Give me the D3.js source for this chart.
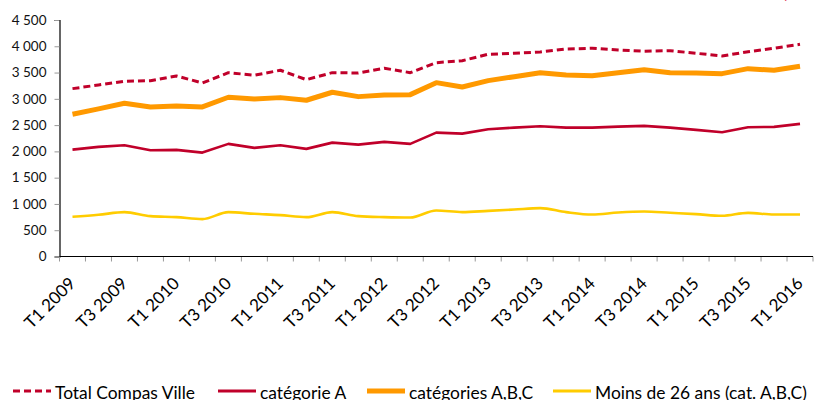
<!DOCTYPE html>
<html>
<head>
<meta charset="utf-8">
<script src="https://cdn.jsdelivr.net/npm/d3@7"></script>
<style>
  body { margin: 0; background: #fff; }
  svg { display: block; font-family: Lato, "Open Sans", sans-serif; }
</style>
</head>
<body>
<svg width="814" height="400"></svg>
<script>
var quarters = ['T1 2009','T2 2009','T3 2009','T4 2009','T1 2010','T2 2010','T3 2010','T4 2010',
                'T1 2011','T2 2011','T3 2011','T4 2011','T1 2012','T2 2012','T3 2012','T4 2012',
                'T1 2013','T2 2013','T3 2013','T4 2013','T1 2014','T2 2014','T3 2014','T4 2014',
                'T1 2015','T2 2015','T3 2015','T4 2015','T1 2016'];

var totalCompas = [3194,3264,3335,3346,3435,3302,3498,3449,3544,3365,3498,3492,3582,3498,3688,
                   3726,3848,3867,3892,3949,3962,3930,3905,3916,3867,3816,3897,3962,4038];
var catA = [2034,2086,2118,2023,2028,1977,2143,2067,2118,2048,2167,2129,2181,2143,2357,
            2338,2422,2452,2479,2452,2452,2471,2485,2452,2409,2365,2460,2466,2523];
var catABC = [2707,2808,2916,2846,2865,2846,3030,2998,3023,2973,3125,3042,3074,3080,3308,
              3226,3346,3422,3498,3454,3441,3498,3555,3498,3492,3479,3574,3544,3620];
var moins26 = [755,793,844,768,749,711,844,812,787,749,844,768,749,741,875,
               844,869,894,920,844,798,837,856,831,806,774,831,798,798];

var yTicks = [0, 500, 1000, 1500, 2000, 2500, 3000, 3500, 4000, 4500];

var series = [
  {name: 'Total Compas Ville', values: totalCompas, color: '#c0002a', width: 3, dash: '7,4', curve: d3.curveLinear},
  {name: 'catégorie A', values: catA, color: '#c0002a', width: 2.6, dash: null, curve: d3.curveLinear},
  {name: 'catégories A,B,C', values: catABC, color: '#ff9900', width: 5, dash: null, curve: d3.curveLinear},
  {name: 'Moins de 26 ans (cat. A,B,C)', values: moins26, color: '#ffcc00', width: 2.6, dash: null, curve: d3.curveMonotoneX}
];

var svg = d3.select('svg'),
    mLeft = 59.5, mRight = 813, mTop = 20, mBottom = 256.5;

var x = d3.scaleBand().domain(quarters).range([mLeft, mRight]),
    y = d3.scaleLinear().domain([0, 4500]).range([mBottom, mTop]);

// y axis
var yAxis = svg.append('g').attr('transform', 'translate(' + mLeft + ',0)')
  .call(d3.axisLeft(y).tickValues(yTicks).tickSize(5)
    .tickFormat(function(v){ return d3.format(',')(v).replace(',', ' '); }));
yAxis.select('.domain').attr('stroke', '#000').attr('stroke-width', 1.2);
yAxis.selectAll('.tick line').attr('stroke', '#999');
yAxis.selectAll('.tick text').attr('font-size', 13.5).attr('fill', '#111').attr('x', -13)
  .attr('font-family', 'Lato, sans-serif');

// x axis: ticks at band boundaries
var xAxis = svg.append('g').attr('class', 'x-axis');
var edges = quarters.map(function(q){ return x(q); }).concat([mRight]);
xAxis.selectAll('line.tk').data(edges).enter().append('line')
  .attr('class', 'tk')
  .attr('x1', function(d){ return d; }).attr('x2', function(d){ return d; })
  .attr('y1', mBottom).attr('y2', mBottom + 5)
  .attr('stroke', '#999');
xAxis.append('line').attr('x1', mLeft).attr('x2', mRight).attr('y1', mBottom).attr('y2', mBottom)
  .attr('stroke', '#000').attr('stroke-width', 1.2);

xAxis.selectAll('text.lbl').data(quarters.filter(function(q, i){ return i % 2 === 0; }))
  .enter().append('text')
  .attr('class', 'lbl')
  .attr('transform', function(d){ return 'translate(' + (x(d) + x.bandwidth()/2 + 4) + ',' + (mBottom + 28) + ') rotate(-45)'; })
  .attr('text-anchor', 'end')
  .attr('font-size', 17)
  .attr('fill', '#000')
  .text(function(d){ return d; });

// lines
var line = d3.line()
  .x(function(d, i){ return x(quarters[i]) + x.bandwidth()/2; })
  .y(function(d){ return y(d); });

series.forEach(function(s){
  svg.append('path')
    .datum(s.values)
    .attr('d', line.curve(s.curve))
    .attr('fill', 'none')
    .attr('stroke', s.color)
    .attr('stroke-width', s.width)
    .attr('stroke-dasharray', s.dash)
    .attr('stroke-linejoin', 'round');
});

// legend
var legendX = [13, 218, 367, 553];
var legend = svg.append('g').attr('class', 'legend');
series.forEach(function(s, i){
  var g = legend.append('g').attr('transform', 'translate(' + legendX[i] + ',391)');
  g.append('line').attr('x1', 0).attr('x2', 38).attr('y1', 0).attr('y2', 0)
    .attr('stroke', s.color)
    .attr('stroke-width', i === 2 ? 5 : 3)
    .attr('stroke-dasharray', s.dash);
  g.append('text').attr('x', 42).attr('y', 7.5)
    .attr('font-size', 17.4).attr('fill', '#000')
    .text(s.name);
});

// source note at top right, mostly outside the picture
svg.append('text').attr('x', 805).attr('y', -1.5)
  .attr('text-anchor', 'end').attr('font-size', 13)
  .attr('fill', '#e0405a')
  .text('Source : Pôle emploi');
</script>
</body>
</html>
